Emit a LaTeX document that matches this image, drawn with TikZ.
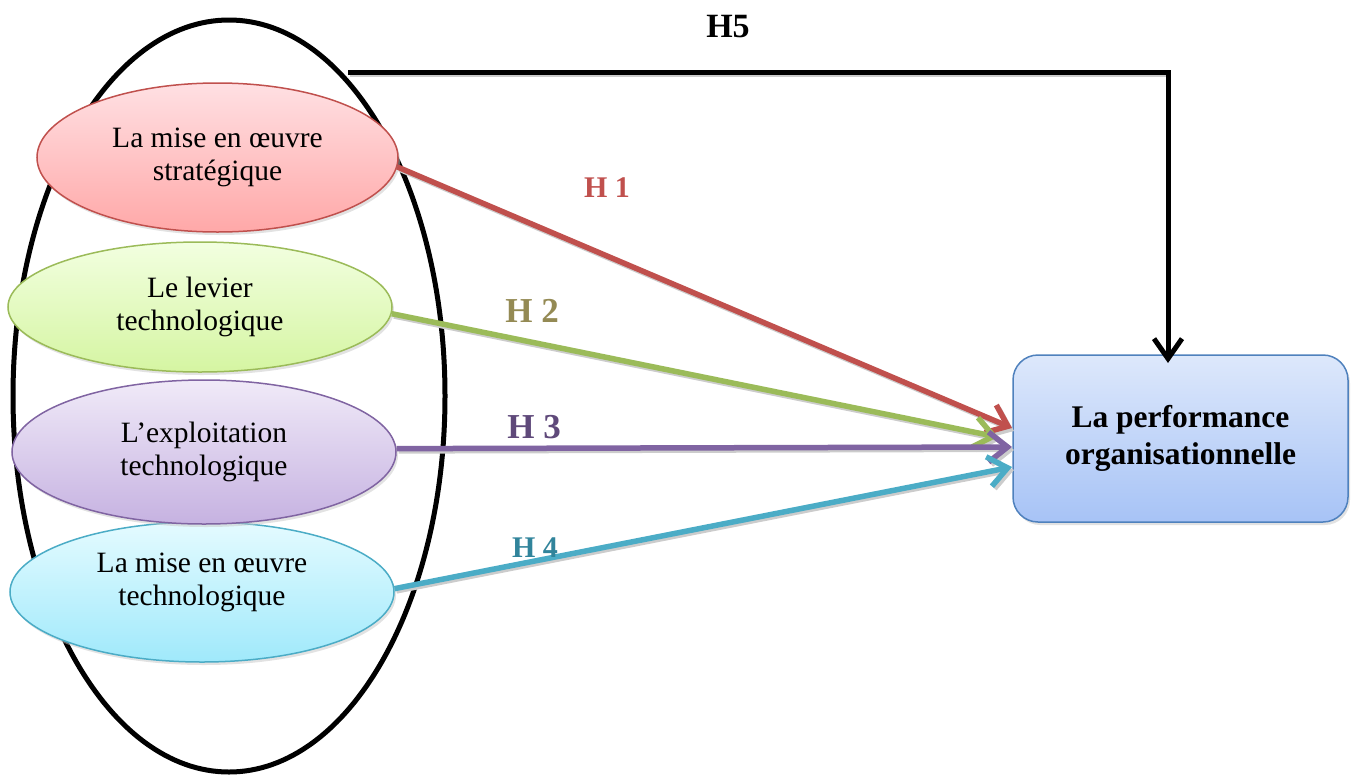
\documentclass[tikz,border=0pt]{standalone}
\usepackage{fontspec}
\setmainfont{Liberation Serif}
\usetikzlibrary{shapes.geometric,arrows.meta,shadows}
\definecolor{redb}{HTML}{C0504D}
\definecolor{greenb}{HTML}{9BBB59}
\definecolor{purpleb}{HTML}{8064A2}
\definecolor{cyanb}{HTML}{4BACC6}
\definecolor{boxb}{HTML}{4F81BD}
\definecolor{redt}{HTML}{FFE0E3}
\definecolor{redbot}{HTML}{FFA8A8}
\definecolor{greent}{HTML}{F2FFE0}
\definecolor{greenbot}{HTML}{D5F5A2}
\definecolor{purplet}{HTML}{F0EAF8}
\definecolor{purplebot}{HTML}{C6B2E1}
\definecolor{cyant}{HTML}{E4FBFF}
\definecolor{cyanbot}{HTML}{A0E9FB}
\definecolor{boxt}{HTML}{DDE8FB}
\definecolor{boxbot}{HTML}{A7C3F6}
\definecolor{hone}{HTML}{C0504D}
\definecolor{htwo}{HTML}{948A54}
\definecolor{hthree}{HTML}{5F497A}
\definecolor{hfour}{HTML}{31849B}
\begin{document}
\begin{tikzpicture}[x=1pt,y=-1pt,
  oval/.style={ellipse, draw, line width=1.5pt, inner sep=0pt, align=center,
    font=\fontsize{29.5}{33}\selectfont,
    drop shadow={shadow xshift=2pt, shadow yshift=-3pt, fill=gray!45}},
  conn/.style={line width=5.5pt, -{Straight Barb[length=19pt,width=30pt]}},
  connshadow/.style={line width=4pt, draw=gray!40, -{Straight Barb[length=19pt,width=30pt]}},
  hlabel/.style={font=\bfseries\fontsize{#1}{#1}\selectfont, inner sep=0pt},
]
\useasboundingbox (0,0) rectangle (1356,774);

% big enclosing ellipse
\node[ellipse, draw, line width=5pt, minimum width=432pt, minimum height=752pt, inner sep=0pt] (big) at (229,396) {};

% inner ellipses
\node[oval, draw=cyanb, top color=cyant, bottom color=cyanbot,
  minimum width=384pt, minimum height=140pt,
  label={[align=center, font=\fontsize{29.5}{33}\selectfont, yshift=10pt]center:La mise en œuvre\\technologique}] (e4) at (202,592) {};
\node[oval, draw=purpleb, top color=purplet, bottom color=purplebot,
  minimum width=384pt, minimum height=144pt] (e3) at (204,452) {L’exploitation\\technologique};
\node[oval, draw=greenb, top color=greent, bottom color=greenbot,
  minimum width=384pt, minimum height=130pt] (e2) at (200,307) {Le levier\\technologique};
\node[oval, draw=redb, top color=redt, bottom color=redbot,
  minimum width=361pt, minimum height=149pt] (e1) at (217.5,157.5) {La mise en œuvre\\stratégique};

% target box
\node[rectangle, rounded corners=25pt, draw=boxb, line width=1.5pt,
  top color=boxt, bottom color=boxbot, minimum width=335pt, minimum height=167pt,
  align=center, font=\bfseries\fontsize{31.5}{37}\selectfont,
  drop shadow={shadow xshift=2pt, shadow yshift=-3pt, fill=gray!45}] (box) at (1180.5,438.5) {La performance\\organisationnelle};

% connector end points
\coordinate (t1) at (1012,428);
\coordinate (t2) at (998,437);
\coordinate (t3) at (1012,447);
\coordinate (t4) at (1012,467);
\coordinate (h5s) at (348,72);
\coordinate (h5e) at (1168,363);

% shadows of connectors
\begin{scope}[transform canvas={shift={(2pt,-3pt)}}]
  \draw[connshadow] (e1.-3) -- (t1);
  \draw[connshadow] (e2.-2) -- (t2);
  \draw[connshadow] (e3.1.5) -- (t3);
  \draw[connshadow] (e4.1.2) -- (t4);
  \draw[line width=4pt, draw=gray!40] (h5s) -- (1168,72);
\end{scope}

% connectors
\draw[conn, draw=redb] (e1.-3) -- (t1);
\draw[conn, draw=greenb] (e2.-2) -- (t2);
\draw[conn, draw=purpleb] (e3.1.5) -- (t3);
\draw[conn, draw=cyanb] (e4.1.2) -- (t4);
\draw[line width=5pt, -{Straight Barb[length=20pt,width=28pt]}] (h5s) -| (h5e);

% labels
\node[hlabel=30, text=hone] (lh1) at (607,188) {H 1};
\node[hlabel=35, text=htwo] (lh2) at (532,311) {H 2};
\node[hlabel=35, text=hthree] (lh3) at (534,427) {H 3};
\node[hlabel=30, text=hfour] (lh4) at (535,548) {H 4};
\node[hlabel=34] (lh5) at (728,27) {H5};
\end{tikzpicture}
\end{document}
